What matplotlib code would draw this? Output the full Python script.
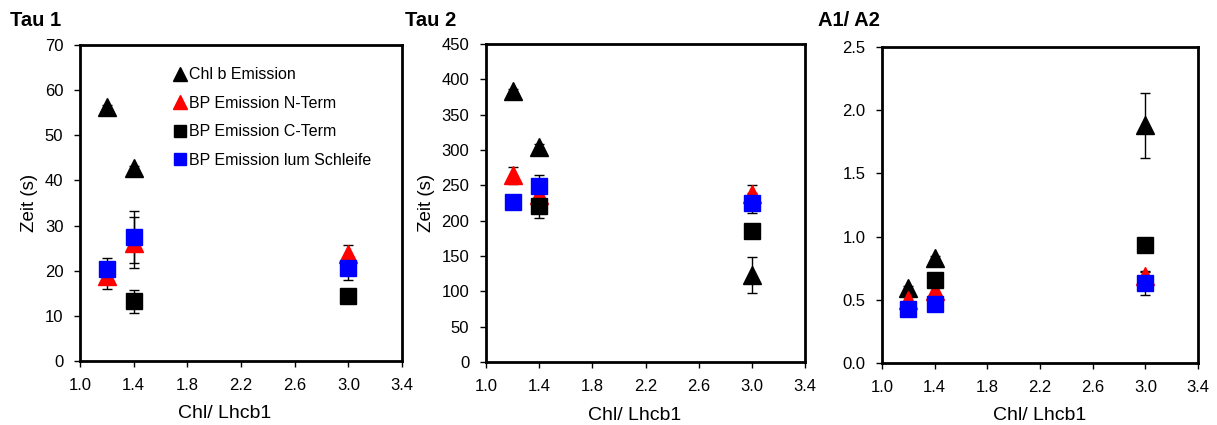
import numpy as np
import matplotlib
matplotlib.use("Agg")
import matplotlib.pyplot as plt

plt.rcParams["font.family"] = ["Liberation Sans", "DejaVu Sans"]

x = [1.2, 1.4, 3.0]
series = ["Chl b Emission", "BP Emission N-Term", "BP Emission C-Term", "BP Emission lum Schleife"]

# Tau 1
tau1 = {
    "chlb": [56.2, 42.7, np.nan],
    "nterm": [18.8, 26.2, 23.7],
    "cterm": [np.nan, 13.2, 14.5],
    "lum": [20.3, 27.5, 20.5],
}
tau1_err = {
    "chlb": [0.5, 0.5, 0.0],
    "nterm": [2.8, 5.6, 2.0],
    "cterm": [0.0, 2.5, 1.0],
    "lum": [2.5, 5.8, 2.6],
}

# Tau 2
tau2 = {
    "chlb": [384, 304, 123],
    "nterm": [264, 236, 238],
    "cterm": [np.nan, 221, 186],
    "lum": [226, 249, 225],
}
tau2_err = {
    "chlb": [3, 4, 26],
    "nterm": [12, 5, 12],
    "cterm": [0, 17, 3],
    "lum": [0, 15, 14],
}

# A1/A2
ratio = {
    "chlb": [0.59, 0.83, 1.88],
    "nterm": [0.50, 0.57, 0.69],
    "cterm": [np.nan, 0.66, 0.93],
    "lum": [0.43, 0.47, 0.63],
}
ratio_err = {
    "chlb": [0.02, 0.02, 0.26],
    "nterm": [0.02, 0.02, 0.04],
    "cterm": [0.0, 0.02, 0.04],
    "lum": [0.0, 0.0, 0.09],
}

styles = {
    "chlb": dict(marker="^", color="black", ms=12.5),
    "nterm": dict(marker="^", color="red", ms=12.5),
    "cterm": dict(marker="s", color="black", ms=11),
    "lum": dict(marker="s", color="blue", ms=11),
}

W, H = 1217, 425
fig = plt.figure(figsize=(W / 100, H / 100), dpi=100)


def add_axes(l, r, t, b):
    return fig.add_axes([l / W, 1 - b / H, (r - l) / W, (b - t) / H])


panels = [
    (add_axes(80, 402, 45, 361), tau1, tau1_err, (0, 70), np.arange(0, 71, 10), "%d", "Zeit (s)", "Tau 1", 10, 0.45),
    (add_axes(486, 805, 44, 362), tau2, tau2_err, (0, 450), np.arange(0, 451, 50), "%d", "Zeit (s)", "Tau 2", 405, 0.465),
    (add_axes(882, 1198, 47, 363), ratio, ratio_err, (0, 2.5), np.arange(0, 2.51, 0.5), "%.1f", None, "A1/ A2", 818, 0.5),
]

for ax, data, err, ylim, yticks, fmt, ylabel, title, tx, lx in panels:
    for key, label in zip(["chlb", "nterm", "cterm", "lum"], series):
        st = styles[key]
        ax.errorbar(x, data[key], yerr=err[key], fmt="none", ecolor="black",
                    elinewidth=1.0, capsize=3.5, capthick=1.0, zorder=2)
        ax.plot(x, data[key], linestyle="none", marker=st["marker"],
                color=st["color"], markersize=st["ms"], label=label, zorder=3)
    ax.set_xlim(1.0, 3.4)
    ax.set_ylim(*ylim)
    ax.set_xticks(np.arange(1.0, 3.41, 0.4))
    ax.set_xticklabels(["%.1f" % v for v in np.arange(1.0, 3.41, 0.4)])
    ax.set_yticks(yticks)
    ax.set_yticklabels([fmt % v for v in yticks])
    ax.tick_params(direction="out", length=4, width=1, labelsize=12, pad=8)
    for sp in ax.spines.values():
        sp.set_linewidth(2)
    ax.set_xlabel("Chl/ Lhcb1", fontsize=14)
    ax.xaxis.set_label_coords(lx, -0.14)
    if ylabel:
        ax.set_ylabel(ylabel, fontsize=13.5, labelpad=5)
    fig.text(tx / W, 1 - 20 / H, title, fontsize=14.5, fontweight="bold", va="center", ha="left")

ax0 = panels[0][0]
ax0.legend(loc="upper left", bbox_to_anchor=(0.263, 0.96), frameon=False, fontsize=11.5,
           handlelength=0.7, handletextpad=0.25, labelspacing=0.85,
           markerscale=0.75, borderaxespad=0.2)

fig.savefig("out.png", dpi=100)
